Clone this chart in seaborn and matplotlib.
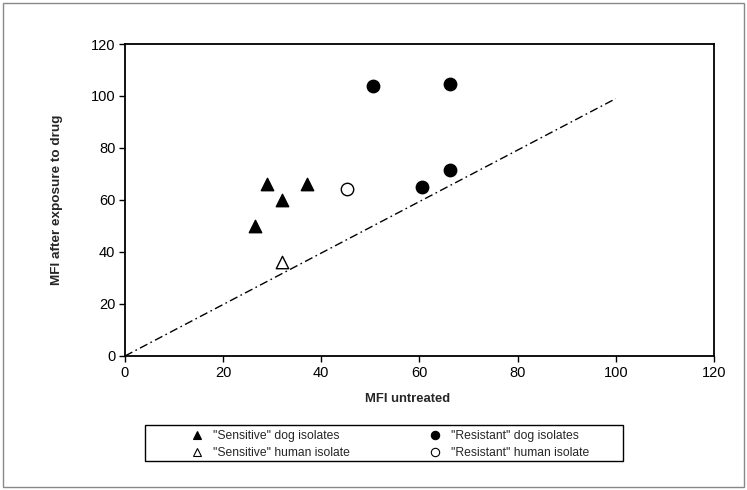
import matplotlib
matplotlib.use("Agg")
import matplotlib.pyplot as plt
import seaborn as sns
import pandas as pd
from matplotlib.patches import Rectangle

sns.set_theme(style="white")
plt.rcParams['font.family'] = ['Liberation Sans', 'DejaVu Sans']

# values
sens_dog_x = [26.5, 29, 32, 37]
sens_dog_y = [50, 66, 60, 66]
sens_human_x = [32]
sens_human_y = [36]
res_dog_x = [50.5, 66.3, 60.6, 66.3]
res_dog_y = [103.8, 104.6, 65.1, 71.4]
res_human_x = [45.2]
res_human_y = [64.1]
ref_line_x = [0, 100]
ref_line_y = [0, 99]
ticks = [0, 20, 40, 60, 80, 100, 120]

fig = plt.figure(figsize=(7.47, 4.90), dpi=100)
ax = fig.add_axes([0.1673, 0.2735, 0.7885, 0.6367])

# identity line
sns.lineplot(x=ref_line_x, y=ref_line_y, ax=ax, color="black", lw=1.0,
             dashes=False, legend=False)
ax.lines[-1].set_dashes((6, 2.5, 1.2, 2.5))

groups = [
    (sens_dog_x, sens_dog_y, "^", "black", '"Sensitive" dog isolates'),
    (sens_human_x, sens_human_y, "^", "white", '"Sensitive" human isolate'),
    (res_dog_x, res_dog_y, "o", "black", '"Resistant" dog isolates'),
    (res_human_x, res_human_y, "o", "white", '"Resistant" human isolate'),
]
handles = []
for gx, gy, m, fc, lab in groups:
    df = pd.DataFrame({"x": gx, "y": gy})
    sns.scatterplot(data=df, x="x", y="y", ax=ax, marker=m, color=fc,
                    edgecolor="black", linewidth=1.0, s=80, zorder=3)
    handles.append(plt.Line2D([], [], marker=m, ls="none", markerfacecolor=fc,
                              markeredgecolor="black", markeredgewidth=0.8,
                              markersize=6, label=lab))

ax.set_xlim(0, 120)
ax.set_ylim(0, 120)
ax.set_xticks(ticks)
ax.set_yticks(ticks)
ax.tick_params(axis="both", direction="out", length=4, width=1, colors="black",
               labelsize=10.5, left=True, bottom=True, pad=3)
for sp in ax.spines.values():
    sp.set_color("black")
    sp.set_linewidth(1.3)
ax.set_xlabel("MFI untreated", fontsize=9.4, fontweight="bold")
ax.xaxis.set_label_coords(0.479, -0.138)
ax.xaxis.label.set_va("center")
ax.set_ylabel("MFI after exposure to drug", fontsize=9.7, fontweight="bold", labelpad=20)

# two single-column legends inside one box
legend_kw = dict(loc="center left", fontsize=8.7, frameon=False,
                 handlelength=1.0, handletextpad=0.8, borderpad=0,
                 labelspacing=0.4, borderaxespad=0)
fig.legend(handles=handles[:2], bbox_to_anchor=(191 / 747, 1 - 444.5 / 490), **legend_kw)
fig.legend(handles=handles[2:], bbox_to_anchor=(429 / 747, 1 - 444.5 / 490), **legend_kw)
fig.patches.append(Rectangle((145 / 747, 1 - 461 / 490), 478 / 747, 36 / 490,
                             transform=fig.transFigure, fill=False,
                             edgecolor="black", lw=1.0))

fig.patches.append(Rectangle((0.004, 0.006), 0.992, 0.988, transform=fig.transFigure,
                             fill=False, edgecolor="#888888", lw=1.0))

fig.savefig("out.png", dpi=100)
